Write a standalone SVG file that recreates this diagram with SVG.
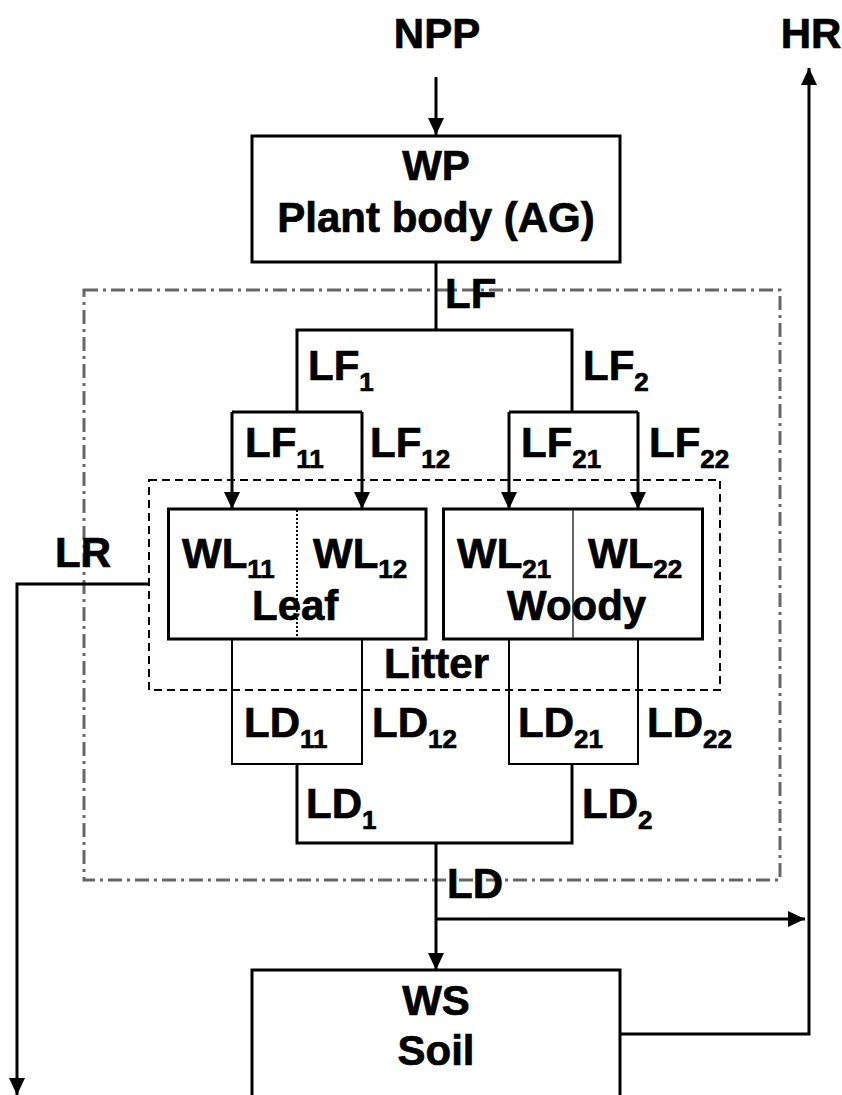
<svg xmlns="http://www.w3.org/2000/svg" width="842" height="1095" viewBox="0 0 842 1095">
<style>
.t{font-family:"Liberation Sans",Arial,sans-serif;font-weight:bold;font-size:42px;fill:#000;stroke:#000;stroke-width:0.7}
.c{text-anchor:middle}
.s{font-size:26px}
.box{fill:none;stroke:#000;stroke-width:3}
.ln{fill:none;stroke:#000;stroke-width:3}
.thin{fill:none;stroke:#000;stroke-width:2}
.dd{fill:none;stroke:#666;stroke-width:3;stroke-dasharray:14 5 3 5}
.ds{fill:none;stroke:#000;stroke-width:2;stroke-dasharray:8 5}
</style>
<defs>
<marker id="ah" markerUnits="userSpaceOnUse" viewBox="0 0 17 16" refX="17" refY="8" markerWidth="17" markerHeight="16" orient="auto">
<path d="M0,0 L17,8 L0,16 z" fill="#000"/>
</marker>
</defs>
<rect width="842" height="1095" fill="#fff"/>
<g id="region-outer"><rect class="dd" x="84" y="290" width="696" height="590"/></g>
<g id="region-litter"><rect class="ds" x="149" y="480" width="571" height="210"/><text class="t" x="384" y="678">Litter</text></g>
<g id="connectors">
<line class="ln" x1="436" y1="77" x2="436" y2="135" marker-end="url(#ah)"/>
<polyline class="ln" points="436,263 436,330"/>
<polyline class="ln" points="297,412 297,330 572,330 572,412"/>
<polyline class="ln" points="232,412 362,412"/>
<polyline class="ln" points="509,412 638,412"/>
<line class="ln" x1="232" y1="412" x2="232" y2="509" marker-end="url(#ah)"/>
<line class="ln" x1="362" y1="412" x2="362" y2="509" marker-end="url(#ah)"/>
<line class="ln" x1="509" y1="412" x2="509" y2="509" marker-end="url(#ah)"/>
<line class="ln" x1="638" y1="412" x2="638" y2="509" marker-end="url(#ah)"/>
<polyline class="thin" points="232,639 232,764 362,764 362,639"/>
<polyline class="thin" points="509,639 509,764 638,764 638,639"/>
<polyline class="ln" points="297,764 297,843 572,843 572,764"/>
<line class="ln" x1="436" y1="843" x2="436" y2="970" marker-end="url(#ah)"/>
<line class="ln" x1="436" y1="919" x2="805" y2="919" marker-end="url(#ah)"/>
<polyline class="ln" points="620,1034 809,1034 809,68" marker-end="url(#ah)"/>
<polyline class="ln" points="149,584 17,584 17,1095" marker-end="url(#ah)"/>
</g>
<g id="npp"><text class="t c" x="437" y="48">NPP</text></g>
<g id="hr"><text class="t c" x="811" y="48">HR</text></g>
<g id="wp"><rect class="box" x="252" y="136" width="368" height="126"/><text class="t c" x="436" y="180">WP</text><text class="t c" x="436" y="232">Plant body (AG)</text></g>
<g id="leaf"><rect class="box" x="168.5" y="509" width="257.5" height="130"/><line x1="297" y1="510" x2="297" y2="638" stroke="#000" stroke-width="2" stroke-dasharray="2 2"/><text class="t" x="182" y="568">WL<tspan class="s" y="578">11</tspan></text><text class="t" x="313" y="568">WL<tspan class="s" y="578">12</tspan></text><text class="t" x="252" y="620">Leaf</text></g>
<g id="woody"><rect class="box" x="443.5" y="509" width="259" height="130"/><line x1="573" y1="510" x2="573" y2="638" stroke="#333" stroke-width="1.5"/><text class="t" x="457" y="568">WL<tspan class="s" y="578">21</tspan></text><text class="t" x="588" y="568">WL<tspan class="s" y="578">22</tspan></text><text class="t" x="507" y="620">Woody</text></g>
<g id="ws"><rect class="box" x="252" y="970" width="368" height="200"/><text class="t c" x="436" y="1015">WS</text><text class="t c" x="436" y="1065">Soil</text></g>
<g id="labels">
<text class="t" x="445" y="308">LF</text>
<text class="t" x="308" y="380">LF<tspan class="s" y="391">1</tspan></text>
<text class="t" x="583" y="380">LF<tspan class="s" y="391">2</tspan></text>
<text class="t" x="245" y="457">LF<tspan class="s" y="468">11</tspan></text>
<text class="t" x="370" y="457">LF<tspan class="s" y="468">12</tspan></text>
<text class="t" x="521" y="457">LF<tspan class="s" y="468">21</tspan></text>
<text class="t" x="649" y="457">LF<tspan class="s" y="468">22</tspan></text>
<text class="t" x="55" y="567">LR</text>
<text class="t" x="244" y="737">LD<tspan class="s" y="748">11</tspan></text>
<text class="t" x="372" y="737">LD<tspan class="s" y="748">12</tspan></text>
<text class="t" x="518" y="737">LD<tspan class="s" y="748">21</tspan></text>
<text class="t" x="647" y="737">LD<tspan class="s" y="748">22</tspan></text>
<text class="t" x="306" y="818">LD<tspan class="s" y="829">1</tspan></text>
<text class="t" x="582" y="818">LD<tspan class="s" y="829">2</tspan></text>
<text class="t" x="447" y="898">LD</text>
</g>
</svg>
